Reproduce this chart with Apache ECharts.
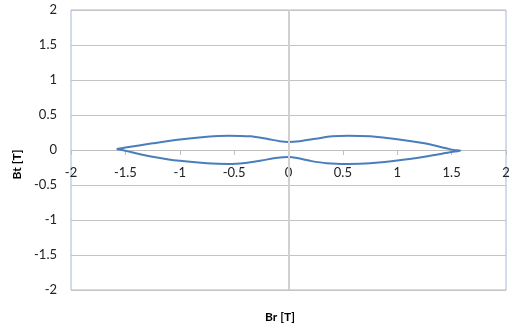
<!DOCTYPE html>
<html>
<head>
<meta charset="utf-8">
<script src="https://cdn.jsdelivr.net/npm/echarts@6/dist/echarts.min.js"></script>
<style>
  html, body { margin: 0; padding: 0; background: #fff; }
  #chart { width: 513px; height: 329px; }
</style>
</head>
<body>
<div id="chart"></div>
<script>
// loop: upper branch left -> right, then lower branch back
var brValues = [-1.58, -1.5, -1.25, -1.0, -0.75, -0.55, -0.35, -0.2, -0.08, 0, 0.1, 0.25, 0.4, 0.55, 0.75, 1.0, 1.25, 1.45, 1.52, 1.58,
                1.5, 1.25, 1.0, 0.75, 0.55, 0.35, 0.2, 0.08, 0, -0.1, -0.25, -0.4, -0.55, -0.75, -1.0, -1.25, -1.45, -1.52, -1.58]
var btValues = [0.015, 0.035, 0.095, 0.15, 0.19, 0.205, 0.195, 0.16, 0.125, 0.115, 0.125, 0.16, 0.195, 0.205, 0.195, 0.155, 0.095, 0.025, 0.0, -0.01,
                -0.03, -0.095, -0.15, -0.19, -0.2, -0.19, -0.155, -0.115, -0.1, -0.11, -0.15, -0.185, -0.2, -0.19, -0.155, -0.095, -0.03, -0.005, 0.015]
var axisTicks = [-2, -1.5, -1, -0.5, 0, 0.5, 1, 1.5, 2]

var points = brValues.map(function (x, i) { return [x, btValues[i]] })

var myChart = echarts.init(document.getElementById('chart'))
var font = 'Lato, "Open Sans", sans-serif'
var option = {
	animation: false,
	grid: {
		left: 71,
		right: 7,
		top: 10,
		bottom: 39,
		show: true,
		borderColor: '#a3b8d8',
		borderWidth: 1
	},
	xAxis: {
		type: 'value',
		min: axisTicks[0],
		max: axisTicks[axisTicks.length - 1],
		interval: 0.5,
		// the horizontal axis sits on Bt = 0, halfway up the plot
		offset: -140,
		axisLine: { show: true, onZero: false, lineStyle: { color: '#bfbfbf', width: 1 } },
		axisTick: { show: true, length: 5, lineStyle: { color: '#bfbfbf' } },
		splitLine: { show: false },
		axisLabel: {
			margin: 16,
			color: '#222',
			fontSize: 13,
			fontFamily: font
		}
	},
	yAxis: {
		type: 'value',
		min: axisTicks[0],
		max: axisTicks[axisTicks.length - 1],
		interval: 0.5,
		name: 'Bt [T]',
		nameLocation: 'middle',
		nameGap: 47,
		nameTextStyle: { color: '#000', fontWeight: 'bold', fontSize: 12, fontFamily: font, padding: [0, 29, 0, 0] },
		axisLine: { show: false, onZero: false },
		axisTick: { show: false },
		splitLine: { show: true, lineStyle: { color: '#c4c4c4', width: 1 } },
		axisLabel: {
			margin: 14,
			color: '#222',
			fontSize: 13,
			fontFamily: font
		}
	},
	graphic: [
		{
			type: 'text',
			left: 265,
			top: 311,
			style: { text: 'Br [T]', fill: '#000', font: 'bold 12px ' + font }
		}
	],
	series: [
		{
			type: 'line',
			data: points,
			smooth: 0.3,
			showSymbol: false,
			lineStyle: { color: '#4a7ebb', width: 2 },
			markLine: {
				silent: true,
				symbol: 'none',
				label: { show: false },
				lineStyle: { color: '#d0d0d0', type: 'solid', width: 2 },
				data: [{ xAxis: 0 }]
			}
		}
	]
}
myChart.setOption(option)
</script>
</body>
</html>
